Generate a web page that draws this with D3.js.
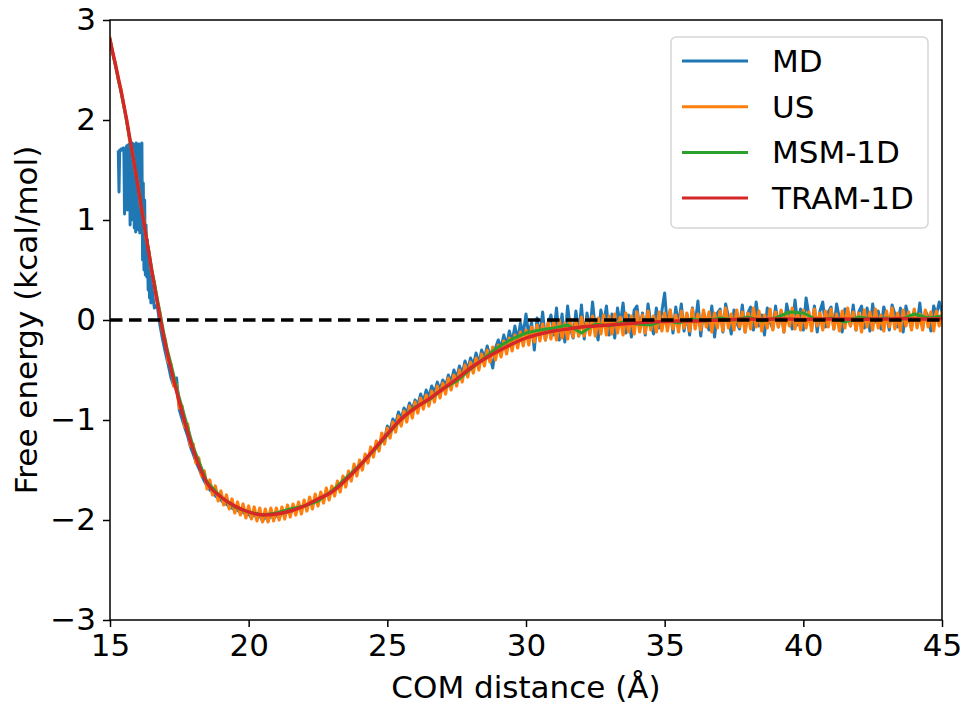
<!DOCTYPE html>
<html>
<head>
<meta charset="utf-8">
<script src="https://cdn.jsdelivr.net/npm/d3@7"></script>
<style>
  body { margin: 0; background: #fff; }
  svg { display: block; font-family: "DejaVu Sans", sans-serif; }
</style>
</head>
<body>
<svg id="chart" width="964" height="705"></svg>
<script>
// ------------------------------------------------------
// DATA
// ------------------------------------------------------

var xTicks = [15, 20, 25, 30, 35, 40, 45];
var yTicks = [-3, -2, -1, 0, 1, 2, 3];
var seriesNames = ['MD', 'US', 'MSM-1D', 'TRAM-1D'];
var seriesColors = ['#1f77b4', '#ff7f0e', '#2ca02c', '#d62728'];

// MD, poorly sampled head: 15.3 to 16.5, every 0.025 A
var mdHeadStart = 15.3, mdHeadStep = 0.025;
var mdHeadValues = [
  1.68, 1.28, 1.70, 1.69, 1.71, 1.70, 1.70, 1.72,
  1.70, 1.06, 1.72, 1.20, 1.74, 1.10, 1.75, 1.30, 1.76, 0.95,
  1.74, 1.00, 1.77, 1.05, 1.76, 0.92, 1.75, 0.88, 1.77, 0.95,
  1.74, 0.90, 1.76, 0.87, 1.75, 0.92, 1.77, 0.60, 1.37, 0.50,
  1.20, 0.45, 0.95, 0.43, 0.80, 0.30, 0.57, 0.22, 0.50, 0.17,
  0.35
];

// MD, rest: 16.6 to 45.0, every 0.1 A
var mdStart = 16.6, mdStep = 0.1;
var mdValues = [
  0.12, 0.15, -0.05, -0.20,
  -0.33, -0.45, -0.58, -0.66, -0.58, -0.90, -0.99, -1.08, -1.16, -1.27,
  -1.34, -1.42, -1.48, -1.55, -1.61, -1.66, -1.70, -1.72, -1.76, -1.78,
  -1.80, -1.83, -1.84, -1.87, -1.88, -1.90, -1.90, -1.93, -1.92, -1.95,
  -1.94, -1.98, -1.93, -1.99, -1.95, -2.01, -1.96, -2.01, -1.94, -1.99,
  -1.95, -1.98, -1.92, -1.96, -1.90, -1.94, -1.88, -1.92, -1.86, -1.90,
  -1.84, -1.87, -1.81, -1.85, -1.78, -1.81, -1.75, -1.78, -1.72, -1.75,
  -1.69, -1.72, -1.65, -1.68, -1.60, -1.62, -1.54, -1.57, -1.49, -1.51,
  -1.44, -1.46, -1.38, -1.40, -1.31, -1.33, -1.24, -1.26, -1.17, -1.19,
  -1.06, -1.10, -0.99, -1.04, -0.92, -0.99, -0.88, -0.93, -0.83, -0.90,
  -0.80, -0.85, -0.74, -0.82, -0.70, -0.77, -0.66, -0.73, -0.62, -0.70,
  -0.60, -0.66, -0.55, -0.62, -0.50, -0.58, -0.46, -0.54, -0.41, -0.50,
  -0.38, -0.45, -0.33, -0.44, -0.30, -0.38, -0.26, -0.36, -0.48, -0.28,
  -0.20, -0.28, -0.15, -0.26, -0.11, -0.22, -0.06, -0.20, -0.03, -0.14,
  0.06, -0.16, -0.02, -0.30, 0.02, -0.18, 0.08, -0.20, -0.04, 0.05,
  -0.15, 0.12, -0.20, 0.06, -0.22, 0.14, -0.08, -0.18, 0.09, -0.16,
  0.15, -0.19, 0.07, -0.13, 0.18, -0.09, -0.20, 0.10, -0.05, 0.14,
  -0.15, 0.06, -0.18, 0.12, -0.05, 0.17, -0.13, 0.05, -0.17, 0.10,
  0.14, -0.10, 0.07, -0.15, 0.16, -0.03, -0.14, 0.12, -0.08, 0.09,
  0.27, -0.08, 0.10, -0.13, 0.13, -0.05, 0.16, -0.11, 0.06, -0.15,
  0.12, -0.05, 0.19, -0.16, 0.08, -0.02, -0.10, 0.14, -0.17, 0.07,
  0.11, -0.12, 0.16, 0.03, -0.14, 0.10, -0.03, -0.09, 0.15, -0.12,
  0.07, 0.13, -0.10, 0.18, -0.06, 0.05, -0.15, 0.12, -0.02, -0.09,
  0.14, -0.07, 0.09, -0.12, 0.16, 0.03, -0.09, 0.20, -0.05, 0.11,
  -0.10, 0.22, 0.05, -0.08, 0.14, -0.12, 0.09, 0.18, -0.07, 0.08,
  0.13, -0.09, 0.16, 0.02, -0.12, 0.11, 0.05, -0.06, 0.15, -0.10,
  0.08, 0.14, -0.08, 0.12, -0.11, 0.16, -0.02, 0.09, -0.09, 0.13,
  0.04, -0.10, 0.15, 0.06, -0.07, 0.12, -0.12, 0.14, 0.02, -0.08,
  0.10, -0.05, 0.17, -0.09, 0.09, 0.03, -0.11, 0.14, 0.05, 0.18, 0.08
];

// US: 15.0 to 45.0, every 0.1 A
var usStart = 15.0, usStep = 0.1;
var usValues = [
  2.82, 2.66, 2.56, 2.40, 2.30, 2.13, 2.01, 1.81, 1.69, 1.50,
  1.37, 1.16, 1.03, 0.82, 0.69, 0.48, 0.37, 0.18, 0.07, -0.12,
  -0.20, -0.42, -0.44, -0.66, -0.65, -0.88, -0.86, -1.07, -1.04, -1.26,
  -1.24, -1.43, -1.38, -1.56, -1.51, -1.69, -1.60, -1.75, -1.66, -1.81,
  -1.71, -1.85, -1.75, -1.89, -1.79, -1.93, -1.82, -1.95, -1.84, -1.98,
  -1.86, -1.99, -1.87, -2.01, -1.88, -2.02, -1.89, -2.02, -1.88, -2.01,
  -1.88, -2.00, -1.87, -1.99, -1.85, -1.97, -1.84, -1.95, -1.82, -1.94,
  -1.80, -1.91, -1.77, -1.89, -1.74, -1.86, -1.72, -1.83, -1.68, -1.80,
  -1.66, -1.76, -1.61, -1.72, -1.56, -1.67, -1.51, -1.61, -1.44, -1.56,
  -1.40, -1.50, -1.34, -1.43, -1.27, -1.37, -1.21, -1.31, -1.13, -1.24,
  -1.08, -1.18, -1.02, -1.12, -0.96, -1.06, -0.91, -1.02, -0.86, -0.98,
  -0.82, -0.93, -0.78, -0.89, -0.75, -0.86, -0.71, -0.82, -0.66, -0.78,
  -0.63, -0.74, -0.58, -0.70, -0.55, -0.66, -0.50, -0.62, -0.45, -0.57,
  -0.42, -0.53, -0.38, -0.50, -0.34, -0.46, -0.30, -0.42, -0.27, -0.40,
  -0.25, -0.37, -0.21, -0.34, -0.18, -0.31, -0.15, -0.28, -0.12, -0.26,
  -0.10, -0.25, -0.07, -0.22, -0.05, -0.21, -0.04, -0.20, -0.02, -0.19,
  -0.01, -0.20, 0.00, -0.18, -0.03, -0.19, 0.01, -0.17, -0.01, -0.16,
  0.03, -0.16, 0.01, -0.15, 0.04, -0.16, 0.02, -0.14, 0.05, -0.15,
  0.04, -0.14, 0.06, -0.13, 0.03, -0.15, 0.07, -0.12, 0.04, -0.14,
  0.08, -0.12, 0.05, -0.13, 0.09, -0.10, 0.04, -0.12, 0.08, -0.11,
  0.07, -0.11, 0.10, -0.09, 0.05, -0.12, 0.09, -0.08, 0.07, -0.11,
  0.11, -0.09, 0.06, -0.10, 0.10, -0.07, 0.08, -0.12, 0.07, -0.08,
  0.09, -0.11, 0.12, -0.08, 0.06, -0.10, 0.10, -0.07, 0.08, -0.12,
  0.07, -0.09, 0.12, -0.07, 0.09, -0.11, 0.05, -0.08, 0.11, -0.10,
  0.08, -0.07, 0.10, -0.12, 0.07, -0.06, 0.12, -0.09, 0.06, -0.10,
  0.10, -0.08, 0.08, -0.11, 0.11, -0.06, 0.07, -0.10, 0.09, -0.07,
  0.11, -0.09, 0.06, -0.11, 0.09, -0.08, 0.12, -0.06, 0.08, -0.10,
  0.07, -0.12, 0.10, -0.07, 0.08, -0.10, 0.11, -0.08, 0.05, -0.11,
  0.09, -0.07, 0.12, -0.09, 0.07, -0.11, 0.10, -0.06, 0.08, -0.10,
  0.11, -0.08, 0.06, -0.10, 0.10, -0.07, 0.08, -0.11, 0.09, -0.06, 0.07
];

// MSM-1D: 15.0 to 45.0, every 0.5 A
var msmStart = 15.0, msmStep = 0.5;
var msmValues = [
  2.80, 2.14, 1.36, 0.52, -0.22, -0.78, -1.27, -1.62, -1.77, -1.87,
  -1.92, -1.95, -1.93, -1.89, -1.86, -1.81, -1.71, -1.58, -1.45, -1.31,
  -1.15, -0.99, -0.87, -0.80, -0.69, -0.61, -0.49, -0.38, -0.27, -0.19,
  -0.13, -0.10, -0.08, -0.05, -0.13, -0.04, -0.06, -0.02, -0.04, -0.05,
  0.00, -0.03, 0.01, -0.01, 0.02, 0.00, 0.03, -0.01, 0.02, 0.08,
  0.07, 0.00, 0.02, -0.02, 0.03, 0.01, 0.02, 0.00, 0.06, 0.02, 0.04
];

// TRAM-1D: 15.0 to 45.0, every 0.5 A
var tramStart = 15.0, tramStep = 0.5;
var tramValues = [
  2.80, 2.15, 1.35, 0.50, -0.25, -0.82, -1.30, -1.63, -1.77, -1.86,
  -1.92, -1.95, -1.94, -1.91, -1.86, -1.79, -1.72, -1.60, -1.46, -1.30,
  -1.14, -0.99, -0.88, -0.79, -0.69, -0.59, -0.48, -0.39, -0.31, -0.24,
  -0.18, -0.14, -0.11, -0.09, -0.07, -0.06, -0.05, -0.04, -0.03, -0.02,
  -0.015, -0.01, -0.01, -0.005, 0.0, 0.005, 0.01, 0.005, 0.01, 0.01,
  0.005, 0.01, 0.01, 0.01, 0.005, 0.01, 0.01, 0.015, 0.01, 0.01, 0.015
];

// ------------------------------------------------------
// LAYOUT
// ------------------------------------------------------

var margin = {left: 110, right: 22, top: 20, bottom: 85};
var width = 964 - margin.left - margin.right;
var height = 705 - margin.top - margin.bottom;
var fontSize = 31;

var svg = d3.select('#chart');
var g = svg.append('g').attr('transform', 'translate(' + margin.left + ',' + margin.top + ')');

var x = d3.scaleLinear().domain([15, 45]).range([0, width]);
var y = d3.scaleLinear().domain([-3, 3]).range([height, 0]);

function toPoints(start, step, values) {
    return values.map(function (v, i) {
        return {x: Math.round((start + i * step) * 1000) / 1000, y: v};
    });
}

var mdData = toPoints(mdHeadStart, mdHeadStep, mdHeadValues).concat(toPoints(mdStart, mdStep, mdValues));

var series = [
    {name: seriesNames[0], color: seriesColors[0], width: 3, curve: d3.curveLinear, data: mdData},
    {name: seriesNames[1], color: seriesColors[1], width: 3.2, curve: d3.curveLinear, data: toPoints(usStart, usStep, usValues)},
    {name: seriesNames[2], color: seriesColors[2], width: 3, curve: d3.curveLinear, data: toPoints(msmStart, msmStep, msmValues)},
    {name: seriesNames[3], color: seriesColors[3], width: 3.4, curve: d3.curveMonotoneX, data: toPoints(tramStart, tramStep, tramValues)}
];

// ------------------------------------------------------
// LINES
// ------------------------------------------------------

svg.append('defs').append('clipPath').attr('id', 'plotClip')
    .append('rect').attr('width', width).attr('height', height);

var plot = g.append('g').attr('clip-path', 'url(#plotClip)');

series.forEach(function (s) {
    var line = d3.line()
        .x(function (d) { return x(d.x); })
        .y(function (d) { return y(d.y); })
        .curve(s.curve);
    plot.append('path')
        .datum(s.data)
        .attr('fill', 'none')
        .attr('stroke', s.color)
        .attr('stroke-width', s.width)
        .attr('stroke-linejoin', 'round')
        .attr('stroke-linecap', 'square')
        .attr('d', line);
});

// zero reference
plot.append('line')
    .attr('x1', x(15)).attr('x2', x(45))
    .attr('y1', y(0)).attr('y2', y(0))
    .attr('stroke', '#000')
    .attr('stroke-width', 3.3)
    .attr('stroke-dasharray', '12.5,6.5');

// ------------------------------------------------------
// AXES
// ------------------------------------------------------

var xAxis = g.append('g')
    .attr('transform', 'translate(0,' + height + ')')
    .call(d3.axisBottom(x).tickValues(xTicks).tickFormat(d3.format('d'))
        .tickSize(7).tickPadding(7).tickSizeOuter(0));

var yAxis = g.append('g')
    .call(d3.axisLeft(y).tickValues(yTicks).tickFormat(d3.format('d'))
        .tickSize(7).tickPadding(7).tickSizeOuter(0));

[xAxis, yAxis].forEach(function (a) {
    a.select('.domain').remove();
    a.selectAll('.tick line').attr('stroke', '#000').attr('stroke-width', 1.5);
    a.selectAll('.tick text')
        .attr('fill', '#000')
        .style('font-family', '"DejaVu Sans", sans-serif')
        .style('font-size', fontSize + 'px');
});

g.append('rect')
    .attr('width', width).attr('height', height)
    .attr('fill', 'none')
    .attr('stroke', '#000')
    .attr('stroke-width', 1.5);

svg.append('text')
    .attr('x', margin.left + width / 2)
    .attr('y', 698)
    .attr('text-anchor', 'middle')
    .style('font-size', fontSize + 'px')
    .text('COM distance (Å)');

svg.append('text')
    .attr('transform', 'translate(37,' + (margin.top + height / 2) + ') rotate(-90)')
    .attr('text-anchor', 'middle')
    .style('font-size', fontSize + 'px')
    .text('Free energy (kcal/mol)');

// ------------------------------------------------------
// LEGEND
// ------------------------------------------------------

var legend = svg.append('g').attr('transform', 'translate(671,37)');

legend.append('rect')
    .attr('width', 257).attr('height', 191)
    .attr('rx', 5).attr('ry', 5)
    .attr('fill', '#fff').attr('fill-opacity', 0.8)
    .attr('stroke', '#d6d6d6').attr('stroke-width', 1.5);

series.forEach(function (s, i) {
    var ly = 24 + i * 45.7;
    legend.append('line')
        .attr('x1', 11).attr('x2', 77)
        .attr('y1', ly).attr('y2', ly)
        .attr('stroke', s.color)
        .attr('stroke-width', 3);
    legend.append('text')
        .attr('x', 101)
        .attr('y', ly + 11)
        .style('font-size', fontSize + 'px')
        .text(s.name);
});
</script>
</body>
</html>
